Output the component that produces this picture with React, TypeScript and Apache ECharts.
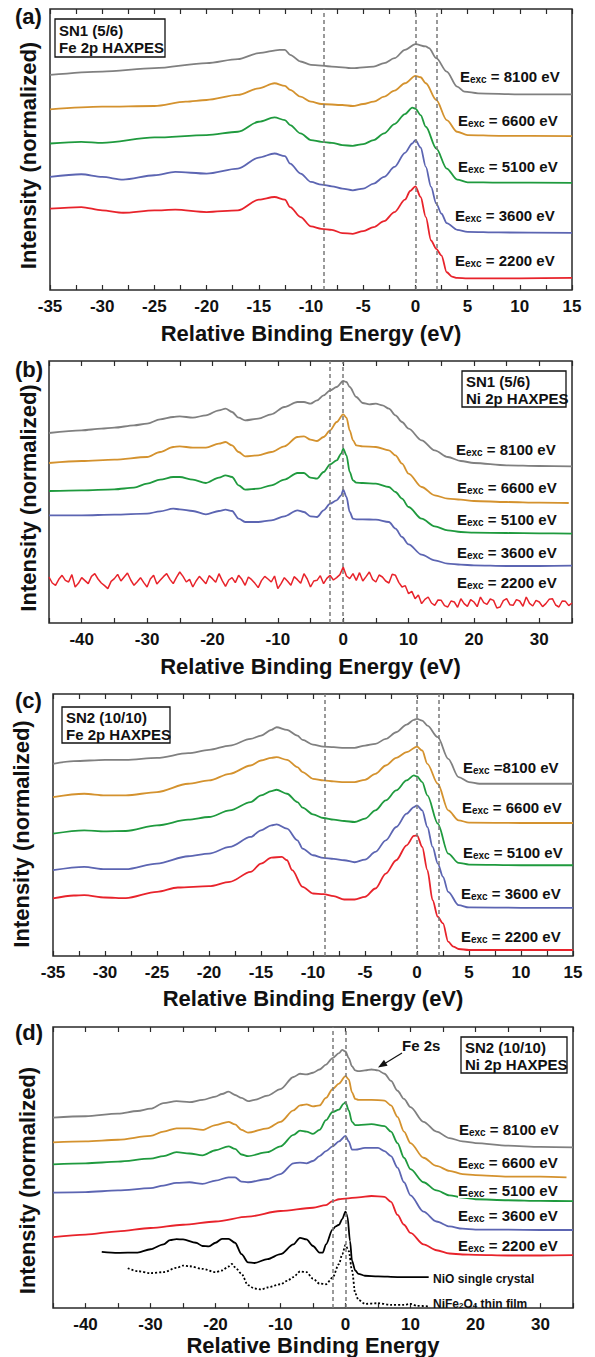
import React, { useEffect, useRef } from 'react';
import * as echarts from 'echarts';

type P = [number, number][];

// ---------- Panel (a): SN1 (5/6) Fe 2p HAXPES ----------
const a8100: P = [[-35,643],[-30,653],[-25,663],[-20,678],[-17,690],[-15,708],[-13,718],[-12.5,718],[-12,703],[-11,683],[-10,673],[-8,668],[-6,663],[-4,668],[-3,678],[-2,693],[-1,718],[0,735],[1,728],[1.3,723],[2,693],[3,653],[4,608],[4.7,593],[6,588],[10,585],[15,585]];
const a6600: P = [[-35,540],[-30,548],[-25,550],[-22,563],[-20,568],[-17,583],[-15,603],[-13.5,618],[-12.5,610],[-12,598],[-11,578],[-10,563],[-9,556],[-7,553],[-6,550],[-5,556],[-4,563],[-3,578],[-2,596],[-1,618],[0,640],[0.5,636],[1,618],[2,568],[3,508],[4,473],[5,463],[8,461],[15,460]];
const a5100: P = [[-35,438],[-32,443],[-30,440],[-25,456],[-20,463],[-17,473],[-15,503],[-13.5,516],[-12.5,508],[-12,493],[-11,468],[-10,448],[-9,443],[-8,440],[-7,433],[-6,431],[-5,436],[-4,448],[-3,468],[-2,496],[-1,526],[-0.3,545],[0,542],[0.5,523],[1,488],[2,423],[3,363],[4,330],[5,322],[8,321],[15,320]];
const a3600: P = [[-35,338],[-32,346],[-30,338],[-28,330],[-25,343],[-23,353],[-20,348],[-17,363],[-15,396],[-13.5,408],[-12.5,400],[-12,378],[-11,348],[-10,323],[-9,315],[-8,310],[-7,303],[-6,298],[-5,303],[-4,318],[-3,338],[-2,368],[-1,410],[-0.3,438],[0,448],[0.5,426],[1,368],[1.5,308],[2,258],[2.5,228],[3,200],[4,180],[5,174],[8,172],[15,171]];
const a2200: P = [[-35,243],[-32,248],[-30,238],[-28,231],[-25,238],[-23,240],[-20,233],[-17,238],[-15,270],[-13.5,278],[-12.5,270],[-12,248],[-11,218],[-10,190],[-9,183],[-8,180],[-7,170],[-6,168],[-5,176],[-4,188],[-3,206],[-2,233],[-1,270],[-0.5,296],[0,310],[0.5,278],[1,218],[1.5,148],[2,123],[2.5,103],[3,53],[3.5,40],[4,36],[5,35],[10,35],[15,36]];
const aDashes = [-8.8, 0, 2.05];

// ---------- Panel (b): SN1 (5/6) Ni 2p HAXPES ----------
const b8100: P = [[-45,570],[-40,578],[-37,583],[-35,586],[-32,593],[-30,598],[-28,611],[-26,618],[-25,620],[-23,616],[-21,623],[-19,638],[-18,643],[-17,633],[-16,616],[-15,608],[-13,613],[-11,626],[-9,648],[-7,663],[-6,663],[-5,658],[-4,668],[-3,683],[-2,698],[-1,708],[0,726],[0.5,723],[1,708],[2,678],[3,660],[4,656],[5,658],[6,653],[7,643],[8,623],[9,603],[10,583],[12,548],[14,518],[16,498],[18,486],[20,480],[25,473],[30,471],[35,470]];
const b6600: P = [[-45,480],[-40,486],[-35,490],[-30,498],[-28,513],[-26,528],[-25,530],[-23,526],[-21,526],[-19,538],[-18,543],[-17,533],[-16,513],[-15,500],[-13,503],[-11,513],[-9,530],[-7,558],[-6,560],[-5,550],[-4,546],[-3,558],[-2,578],[-1,603],[0,626],[0.5,616],[1,578],[1.5,548],[2,533],[3,530],[5,528],[7,518],[8,503],[9,478],[10,448],[12,408],[14,383],[16,373],[18,370],[20,366],[25,363],[30,361],[34.5,360]];
const b5100: P = [[-45,396],[-40,398],[-35,401],[-32,406],[-30,418],[-28,430],[-26,438],[-25,438],[-23,430],[-21,420],[-19,436],[-18,443],[-17,438],[-16,413],[-15,400],[-13,403],[-11,413],[-9,430],[-7,450],[-6,450],[-5,436],[-4,433],[-3,453],[-2,476],[-1,488],[-0.3,508],[0,523],[0.5,503],[1,453],[1.5,428],[2,421],[3,420],[5,418],[7,408],[8,393],[9,373],[10,348],[12,313],[14,290],[16,278],[18,273],[20,271],[25,270],[30,269],[35,268]];
const b3600: P = [[-45,323],[-40,323],[-35,325],[-30,328],[-28,335],[-26,343],[-25,341],[-23,336],[-21,326],[-19,336],[-18,340],[-17,336],[-16,313],[-15,303],[-13,303],[-11,308],[-9,320],[-7,338],[-6,333],[-5,320],[-4,318],[-3,338],[-2,358],[-1,368],[-0.3,383],[0,400],[0.5,378],[1,333],[1.5,313],[2,311],[3,311],[5,310],[7,303],[8,283],[9,258],[10,236],[12,205],[14,188],[16,178],[18,175],[20,173],[25,171],[30,171],[35,172]];
const b2200: P = [[-45,138],[-44.5,120],[-44,113],[-43.5,131],[-43,143],[-42.5,128],[-42,123],[-41.5,145],[-41,108],[-40.5,119],[-40,136],[-39.5,127],[-39,118],[-38.5,140],[-38,148],[-37.5,132],[-37,120],[-36.5,112],[-36,103],[-35.5,125],[-35,133],[-34.5,146],[-34,126],[-33.5,138],[-33,150],[-32.5,129],[-32,113],[-31.5,124],[-31,136],[-30.5,121],[-30,108],[-29.5,132],[-29,143],[-28.5,117],[-28,128],[-27.5,139],[-27,148],[-26.5,131],[-26,118],[-25.5,137],[-25,153],[-24.5,140],[-24,123],[-23.5,131],[-23,108],[-22.5,126],[-22,140],[-21.5,129],[-21,118],[-20.5,142],[-20,133],[-19.5,122],[-19,148],[-18.5,127],[-18,110],[-17.5,129],[-17,136],[-16.5,121],[-16,143],[-15.5,131],[-15,113],[-14.5,138],[-14,130],[-13.5,119],[-13,106],[-12.5,127],[-12,140],[-11.5,132],[-11,123],[-10.5,141],[-10,103],[-9.5,118],[-9,136],[-8.5,125],[-8,113],[-7.5,139],[-7,130],[-6.5,119],[-6,148],[-5.5,132],[-5,108],[-4.5,126],[-4,128],[-3.5,142],[-3,118],[-2.5,134],[-2,143],[-1.5,129],[-1,136],[-0.5,145],[0,168],[0.5,141],[1,133],[1.5,148],[2,128],[2.5,151],[3,126],[3.5,139],[4,153],[4.5,131],[5,123],[5.5,144],[6,138],[6.5,126],[7,120],[7.5,146],[8,143],[8.5,122],[9,108],[9.5,112],[10,88],[10.5,95],[11,73],[11.5,84],[12,58],[12.5,71],[13,78],[13.5,60],[14,53],[14.5,69],[15,68],[15.5,52],[16,48],[16.5,66],[17,63],[17.5,47],[18,73],[18.5,58],[19,50],[19.5,70],[20,63],[20.5,49],[21,78],[21.5,61],[22,56],[22.5,72],[23,68],[23.5,45],[24,48],[24.5,67],[25,73],[25.5,55],[26,53],[26.5,70],[27,66],[27.5,50],[28,78],[28.5,59],[29,51],[29.5,68],[30,63],[30.5,49],[31,58],[31.5,71],[32,73],[32.5,54],[33,48],[33.5,66],[34,65],[34.5,52],[35,60]];
const bDashes = [-2, 0];

// ---------- Panel (c): SN2 (10/10) Fe 2p HAXPES ----------
const c8100: P = [[-35,578],[-33,586],[-30,590],[-28,590],[-25,596],[-22,610],[-20,620],[-18,633],[-16,653],[-15,663],[-14,680],[-13.5,688],[-12.5,680],[-11.5,663],[-11,650],[-10,636],[-9,630],[-8,628],[-7,626],[-6,626],[-5,633],[-4,638],[-3,653],[-2,673],[-1,696],[-0.3,710],[0,713],[0.5,708],[1,693],[2,658],[3,593],[4,538],[5,523],[6,518],[10,518],[15,518]];
const c6600: P = [[-35,478],[-32,488],[-30,483],[-28,483],[-25,493],[-22,518],[-20,528],[-18,548],[-16,573],[-15,588],[-14,596],[-13.5,598],[-12.5,590],[-11.5,568],[-11,553],[-10,533],[-9,528],[-8,525],[-7,523],[-6,523],[-5,530],[-4,548],[-3,573],[-2,596],[-1,613],[0,630],[0.5,618],[1,578],[2,518],[3,438],[4,408],[5,401],[10,400],[15,400]];
const c5100: P = [[-35,368],[-32,378],[-30,375],[-28,376],[-25,393],[-22,410],[-20,418],[-18,438],[-16,463],[-15,483],[-14,496],[-13.5,500],[-12.5,488],[-11.5,463],[-11,446],[-10,426],[-9,415],[-8,410],[-7,406],[-6,403],[-5,413],[-4,438],[-3,468],[-2,498],[-1,528],[-0.3,543],[0,540],[0.5,523],[1,483],[2,398],[3,308],[4,280],[5,275],[10,273],[15,273]];
const c3600: P = [[-35,258],[-32,268],[-30,261],[-28,261],[-25,278],[-22,300],[-20,308],[-18,328],[-16,358],[-15,378],[-14,393],[-13.5,396],[-12.5,383],[-11.5,348],[-11,323],[-10,303],[-9,295],[-8,292],[-7,288],[-6,282],[-5,290],[-4,313],[-3,348],[-2,388],[-1,428],[-0.3,448],[0,453],[0.5,438],[1,388],[1.5,328],[2,278],[2.5,238],[3,193],[4,153],[5,146],[10,145],[15,145]];
const c2200: P = [[-35,173],[-33,182],[-32,183],[-30,176],[-28,174],[-25,193],[-23,206],[-20,210],[-18,223],[-16,253],[-15,278],[-14,296],[-13,298],[-12.5,288],[-12,258],[-11,208],[-10,188],[-9,186],[-8,180],[-7,170],[-6,170],[-5,178],[-4,203],[-3,248],[-2,288],[-1,333],[-0.3,361],[0,363],[0.5,328],[1,258],[1.5,168],[2,118],[2.5,98],[3,43],[3.5,28],[4,21],[5,18],[10,18],[15,18]];
const cDashes = [-8.9, 0, 2.1];

// ---------- Panel (d): SN2 (10/10) Ni 2p HAXPES + references ----------
const d8100: P = [[-45,583],[-40,587],[-35,595],[-32,603],[-30,610],[-28,627],[-26,633],[-24,630],[-22,637],[-20,647],[-19,655],[-18,662],[-17,652],[-16,643],[-15,633],[-14,637],[-12,650],[-10,670],[-8,707],[-7,717],[-6,715],[-5,720],[-4,730],[-3,745],[-2,765],[-1,780],[-0.5,790],[0,785],[0.5,765],[1,740],[1.5,727],[2,725],[3,727],[4,730],[5,727],[6,717],[7,695],[8,665],[9,640],[10,615],[12,570],[14,540],[16,520],[18,510],[20,505],[25,497],[30,493],[35,492]];
const d6600: P = [[-45,507],[-40,510],[-35,515],[-30,527],[-28,540],[-26,550],[-24,550],[-22,545],[-20,560],[-18,570],[-17,562],[-16,545],[-15,537],[-12,550],[-10,570],[-8,605],[-7,620],[-6,623],[-5,617],[-4,620],[-3,643],[-2,670],[-1,687],[0,710],[0.5,700],[1,660],[1.5,640],[2,637],[4,637],[6,635],[7,620],[8,585],[9,540],[10,505],[12,460],[14,435],[16,420],[18,410],[20,407],[25,402],[30,402],[34,400]];
const d5100: P = [[-45,440],[-40,443],[-35,448],[-30,457],[-28,465],[-26,477],[-24,473],[-22,467],[-20,483],[-18,495],[-17,487],[-16,470],[-15,465],[-12,477],[-10,495],[-8,530],[-7,543],[-6,540],[-5,533],[-4,545],[-3,575],[-2,600],[-1,607],[-0.3,625],[0,630],[0.5,605],[1,570],[1.5,560],[2,560],[4,563],[6,557],[7,540],[8,505],[9,460],[10,425],[12,385],[14,360],[16,345],[18,338],[20,333],[25,330],[30,328],[35,327]];
const d3600: P = [[-45,353],[-40,355],[-35,360],[-30,367],[-28,375],[-26,383],[-24,385],[-22,380],[-20,390],[-18,400],[-17,400],[-16,387],[-15,385],[-12,395],[-10,410],[-8,443],[-7,445],[-6,443],[-5,450],[-4,465],[-3,480],[-2,495],[-1,510],[0,527],[0.5,510],[1,485],[1.5,485],[3,490],[5,490],[6,480],[7,465],[8,430],[9,385],[10,345],[12,295],[14,265],[16,250],[18,243],[20,240],[25,240],[30,239],[35,239]];
const d2200: P = [[-45,217],[-40,225],[-35,235],[-30,245],[-25,255],[-20,265],[-15,280],[-10,297],[-5,307],[-3,315],[-2,327],[-1,333],[0,335],[2,339],[4,343],[6,340],[7,325],[8,285],[9,255],[10,230],[12,195],[14,177],[16,167],[18,164],[20,163],[25,161],[30,161],[35,162]];
const dNiO: P = [[-37.5,172],[-35,169],[-32,170],[-30,180],[-28,195],[-27,208],[-26,211],[-25,210],[-23,200],[-22,190],[-21,189],[-20,200],[-19,212],[-18,212],[-17,200],[-16,165],[-15,140],[-14,138],[-12,150],[-10,165],[-8,195],[-7,215],[-6,210],[-5,190],[-4,170],[-3.5,170],[-3,195],[-2,240],[-1.5,250],[-1,255],[-0.5,273],[0,295],[0.3,280],[0.7,205],[1,145],[1.5,115],[2,105],[3,99],[5,97],[8,95],[12.8,95]];
const dNiFe2O4: P = [[-33.5,122],[-32,113],[-30,107],[-28,110],[-26,123],[-25,130],[-24,128],[-22,120],[-20,110],[-19,115],[-18,127],[-17.5,135],[-17,125],[-16,105],[-15,70],[-14,60],[-13,57],[-12,63],[-10,73],[-9,83],[-8,95],[-7,112],[-6,110],[-5,90],[-4,75],[-3,73],[-2,93],[-1,135],[-0.5,165],[0,193],[0.5,175],[1,115],[1.5,45],[2,25],[3,13],[5,15],[7,10],[9,10],[10,13],[11,7],[13,5]];
const dDashes = [-2, 0];

const energies = ['8100', '6600', '5100', '3600', '2200'];

const FONT = "'Liberation Sans', Arial, Helvetica, sans-serif";
const COLORS: Record<string, string> = {
  '8100': '#808080',
  '6600': '#d4922e',
  '5100': '#1f9a3e',
  '3600': '#5c65b2',
  '2200': '#e8232b',
};

type Panel = {
  grid: { left: number; top: number; width: number; height: number };
  xMin: number; xMax: number; interval: number; labelStep: number;
  yMax: number; yNameGap: number; yNamePad: number;
  xName: string; xNameGap: number;
  dashes: number[];
  curves: P[];
  noisy?: number;
  extra?: { data: P; dotted: boolean }[];
};

const panels: Panel[] = [
  { grid: { left: 50, top: 9, width: 522, height: 281 }, xMin: -35, xMax: 15, interval: 2.5, labelStep: 5, yMax: 840, yNameGap: 11, yNamePad: 12, xName: 'Relative Binding Energy (eV)', xNameGap: 32, dashes: aDashes, curves: [a8100, a6600, a5100, a3600, a2200] },
  { grid: { left: 49, top: 361, width: 523, height: 262 }, xMin: -45, xMax: 35, interval: 5, labelStep: 10, yMax: 786, yNameGap: 10, yNamePad: 12, xName: 'Relative Binding Energy (eV)', xNameGap: 32, dashes: bDashes, curves: [b8100, b6600, b5100, b3600, b2200], noisy: 4 },
  { grid: { left: 53, top: 694, width: 520, height: 262 }, xMin: -35, xMax: 15, interval: 2.5, labelStep: 5, yMax: 788, yNameGap: 21, yNamePad: 18, xName: 'Relative Binding Energy (eV)', xNameGap: 31, dashes: cDashes, curves: [c8100, c6600, c5100, c3600, c2200] },
  { grid: { left: 53, top: 1027, width: 520, height: 285 }, xMin: -45, xMax: 35, interval: 5, labelStep: 10, yMax: 860, yNameGap: 15, yNamePad: 26, xName: 'Relative Binding Energy', xNameGap: 23, dashes: dDashes, curves: [d8100, d6600, d5100, d3600, d2200], extra: [{ data: dNiO, dotted: false }, { data: dNiFe2O4, dotted: true }] },
];

const txt = (size: number) => ({ fontSize: size, fontWeight: 'bold' as const, fontFamily: FONT, fill: '#111' });

function eLabel(x: number, y: number, v: string, tight = false, bg = false) {
  return {
    type: 'text', x, y, z: 50,
    style: {
      text: `{m|E}{s|exc}{m|${tight ? ' =' : ' = '}${v} eV}`,
      rich: {
        m: { ...txt(15), lineHeight: 16, verticalAlign: 'bottom' },
        s: { ...txt(10), lineHeight: 3, verticalAlign: 'bottom' },
      },
      verticalAlign: 'middle',
      backgroundColor: bg ? '#ffffff' : 'transparent',
    },
  };
}

function box(x: number, y: number, w: number, h: number, lines: string) {
  return [
    { type: 'rect', z: 40, shape: { x, y, width: w, height: h }, style: { fill: '#fff', stroke: '#111', lineWidth: 1.3 } },
    { type: 'text', z: 41, x: x + 4, y: y + h / 2 + 1, style: { text: lines, ...txt(15), lineHeight: 17, verticalAlign: 'middle' } },
  ];
}

function buildOption() {
  const grid: any[] = [];
  const xAxis: any[] = [];
  const yAxis: any[] = [];
  const series: any[] = [];
  panels.forEach((p, i) => {
    grid.push({ ...p.grid, show: true, borderColor: '#2a2a2a', borderWidth: 1.5, backgroundColor: 'transparent' });
    const common = {
      gridIndex: i, type: 'value', min: p.xMin, max: p.xMax, interval: p.interval,
      axisLine: { show: false },
      axisTick: { show: true, inside: true, length: 5, lineStyle: { color: '#2a2a2a', width: 1.2 } },
      splitLine: { show: false },
    };
    xAxis.push({
      ...common, position: 'bottom',
      axisLabel: {
        show: true, margin: 8, fontSize: 17, fontWeight: 'bold', fontFamily: FONT, color: '#111',
        formatter: (v: number) => (Math.abs(v / p.labelStep - Math.round(v / p.labelStep)) < 1e-6 ? String(v) : ''),
      },
      name: p.xName, nameLocation: 'middle', nameGap: p.xNameGap,
      nameTextStyle: { fontSize: 22, fontWeight: 'bold', fontFamily: FONT, color: '#111' },
    });
    xAxis.push({ ...common, position: 'top', axisLabel: { show: false } });
    yAxis.push({
      gridIndex: i, type: 'value', min: 0, max: p.yMax,
      axisLine: { show: false }, axisTick: { show: false }, axisLabel: { show: false }, splitLine: { show: false },
      name: 'Intensity (normalized)', nameLocation: 'middle', nameGap: p.yNameGap,
      nameTextStyle: { fontSize: 22, fontWeight: 'bold', fontFamily: FONT, color: '#111', padding: [0, p.yNamePad, 0, 0] },
    });
    p.curves.forEach((data, k) => {
      const jagged = p.noisy === k;
      series.push({
        type: 'line', xAxisIndex: i * 2, yAxisIndex: i, data, symbol: 'none', showSymbol: false,
        smooth: jagged ? false : 0.3, smoothMonotone: 'x', silent: true, z: 3,
        lineStyle: { color: COLORS[energies[k]], width: jagged ? 1.5 : 1.8 },
        markLine: k === 0 ? {
          symbol: 'none', silent: true, label: { show: false },
          lineStyle: { color: '#7a7a7a', type: [4, 3], width: 1.5 },
          data: p.dashes.map((x) => ({ xAxis: x })),
        } : undefined,
      });
    });
    (p.extra || []).forEach((e) => {
      series.push({
        type: 'line', xAxisIndex: i * 2, yAxisIndex: i, data: e.data, symbol: 'none', showSymbol: false,
        smooth: 0.3, smoothMonotone: 'x', silent: true, z: 3,
        lineStyle: { color: '#000', width: 1.8, type: e.dotted ? [2, 2] : 'solid' },
      });
    });
  });

  const graphic: any[] = [
    { type: 'text', x: 15, y: 16, z: 60, style: { text: '(a)', ...txt(22), verticalAlign: 'middle' } },
    { type: 'text', x: 15, y: 369, z: 60, style: { text: '(b)', ...txt(22), verticalAlign: 'middle' } },
    { type: 'text', x: 15, y: 700, z: 60, style: { text: '(c)', ...txt(22), verticalAlign: 'middle' } },
    { type: 'text', x: 15, y: 1032, z: 60, style: { text: '(d)', ...txt(22), verticalAlign: 'middle' } },
    ...box(55, 19, 110, 38, 'SN1 (5/6)\nFe 2p HAXPES'),
    ...box(462, 371, 104, 36, 'SN1 (5/6)\nNi 2p HAXPES'),
    ...box(62, 707, 108, 36, 'SN2 (10/10)\nFe 2p HAXPES'),
    ...box(461, 1037, 106, 36, 'SN2 (10/10)\nNi 2p HAXPES'),
    eLabel(460, 76, '8100'), eLabel(458, 120, '6600'), eLabel(458, 166, '5100'), eLabel(455, 215, '3600'), eLabel(455, 260, '2200'),
    eLabel(456, 449, '8100'), eLabel(457, 487, '6600'), eLabel(457, 519, '5100'), eLabel(457, 552, '3600'), eLabel(457, 582, '2200'),
    eLabel(463, 767, '8100', true), eLabel(462, 807, '6600'), eLabel(463, 852, '5100'), eLabel(461, 893, '3600'), eLabel(461, 936, '2200'),
    eLabel(459, 1129, '8100'), eLabel(458, 1162, '6600'), eLabel(458, 1190, '5100', false, true), eLabel(458, 1215, '3600'), eLabel(458, 1245, '2200'),
    { type: 'text', x: 402, y: 1045, z: 60, style: { text: 'Fe 2s', ...txt(15), verticalAlign: 'middle' } },
    { type: 'line', z: 60, shape: { x1: 402, y1: 1053, x2: 384, y2: 1064 }, style: { stroke: '#111', lineWidth: 1.2 } },
    { type: 'polygon', z: 60, shape: { points: [[378, 1067.5], [387.6, 1065.8], [384, 1059.8]] }, style: { fill: '#111' } },
    { type: 'text', x: 433, y: 1279, z: 60, style: { text: 'NiO single crystal', ...txt(12), verticalAlign: 'middle' } },
    {
      type: 'text', x: 433, y: 1303, z: 60,
      style: {
        text: '{m|NiFe}{s|2}{m|O}{s|4}{m| thin film}',
        rich: { m: { ...txt(12), lineHeight: 13, verticalAlign: 'bottom' }, s: { ...txt(8), lineHeight: 3, verticalAlign: 'bottom' } },
        verticalAlign: 'middle',
      },
    },
  ];

  return { animation: false, backgroundColor: '#ffffff', grid, xAxis, yAxis, series, graphic };
}

export default function App() {
  const ref = useRef<HTMLDivElement>(null);
  useEffect(() => {
    if (!ref.current) return;
    const chart = echarts.init(ref.current, undefined, { renderer: 'svg' });
    chart.setOption(buildOption() as any);
    return () => chart.dispose();
  }, []);
  return <div ref={ref} style={{ width: 595, height: 1357, position: 'absolute', left: 0, top: 0, background: '#fff' }} />;
}
